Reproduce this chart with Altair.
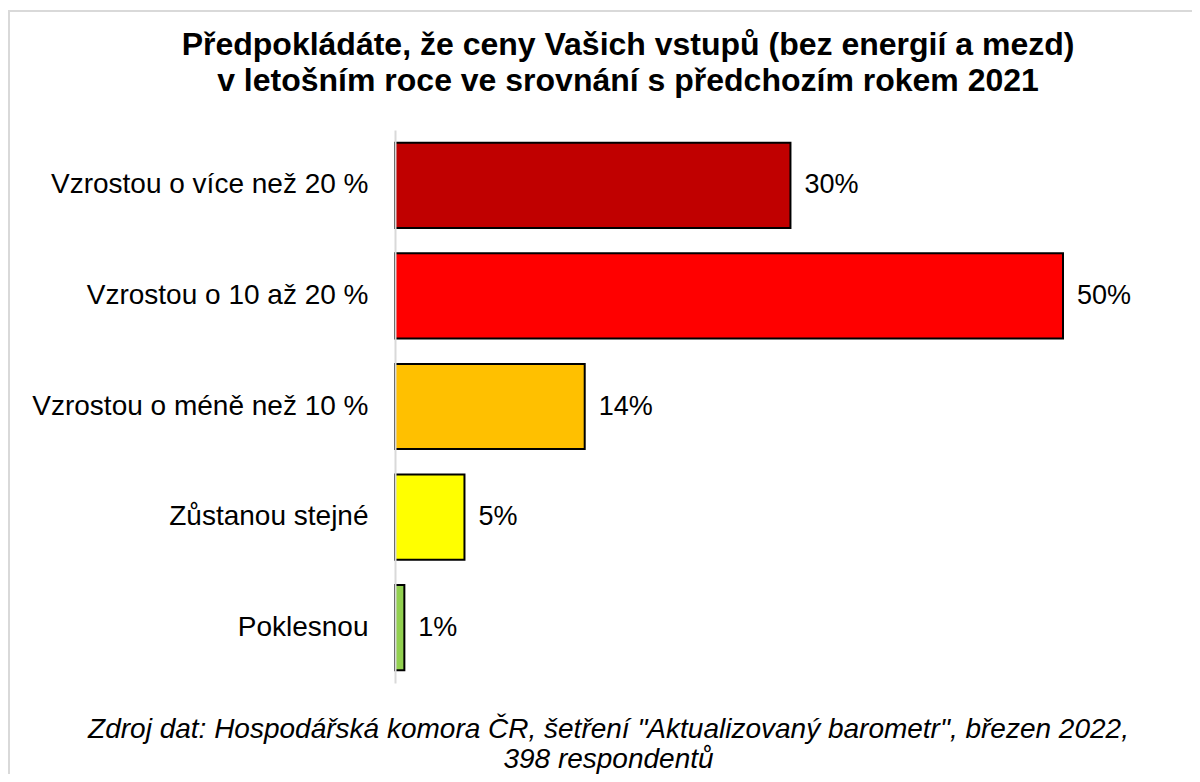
import altair as alt
import pandas as pd

categories = [
    "Vzrostou o více než 20 %",
    "Vzrostou o 10 až 20 %",
    "Vzrostou o méně než 10 %",
    "Zůstanou stejné",
    "Poklesnou",
]
values = [29.6, 50.0, 14.2, 5.2, 0.7]
colors = ["#C00000", "#FF0000", "#FFC000", "#FFFF00", "#92D050"]

title_lines = [
    "Předpokládáte, že ceny Vašich vstupů (bez energií a mezd)",
    "v letošním roce ve srovnání s předchozím rokem 2021",
]
source_lines = [
    "Zdroj dat: Hospodářská komora ČR, šetření \"Aktualizovaný barometr\", březen 2022,",
    "398 respondentů",
]

df = pd.DataFrame({"cat": categories, "value": values, "color": colors})

FONT = "Liberation Sans"

frame = alt.Chart(pd.DataFrame({"f": [0]})).mark_rect(
    fillOpacity=0, stroke="#D9D9D9", strokeWidth=2
).encode(
    x=alt.value(-386), x2=alt.value(900), y=alt.value(-119), y2=alt.value(800)
)

y_enc = alt.Y(
    "cat:N",
    sort=categories,
    scale=alt.Scale(paddingInner=0.23, paddingOuter=0.115),
    axis=alt.Axis(
        title=None,
        ticks=False,
        domain=True,
        domainColor="#D9D9D9",
        domainWidth=2,
        labelFont=FONT,
        labelFontSize=28,
        labelColor="#000000",
        labelPadding=27,
        labelLimit=400,
        zindex=1,
    ),
)

x_enc = alt.X(
    "value:Q",
    scale=alt.Scale(domain=[0, 50], nice=False),
    axis=alt.Axis(
        domain=False,
        ticks=False,
        labels=False,
        grid=False,
        title=source_lines,
        titleFont=FONT,
        titleFontSize=28,
        titleFontStyle="italic",
        titleFontWeight="normal",
        titleColor="#000000",
        titleX=213,
        titleY=54,
        titleAlign="center",
        titleBaseline="alphabetic",
        titleLineHeight=30,
        zindex=1,
    ),
)

bars = alt.Chart(df).mark_bar(stroke="#000000", strokeWidth=2).encode(
    y=y_enc,
    x=x_enc,
    color=alt.Color("color:N", scale=None, legend=None),
)

labels = alt.Chart(df).transform_calculate(
    label="format(datum.value, '.0f') + '%'"
).mark_text(
    align="left", baseline="middle", dx=14, font=FONT, fontSize=27, color="#000000"
).encode(
    y=alt.Y("cat:N", sort=categories),
    x=alt.X("value:Q"),
    text="label:N",
)

chart = alt.layer(frame, bars, labels).properties(
    width=668,
    height=553,
    autosize=alt.AutoSizeParams(type="none"),
    padding={"left": 387, "top": 122, "right": 129, "bottom": 91},
    title=alt.TitleParams(
        text=title_lines,
        font=FONT,
        fontSize=32,
        fontWeight="bold",
        color="#000000",
        anchor="middle",
        dx=-101,
        lineHeight=36,
        offset=-88,
    ),
).configure_view(stroke=None)

chart.save("out.html", embed_options={"renderer": "svg", "actions": False})
